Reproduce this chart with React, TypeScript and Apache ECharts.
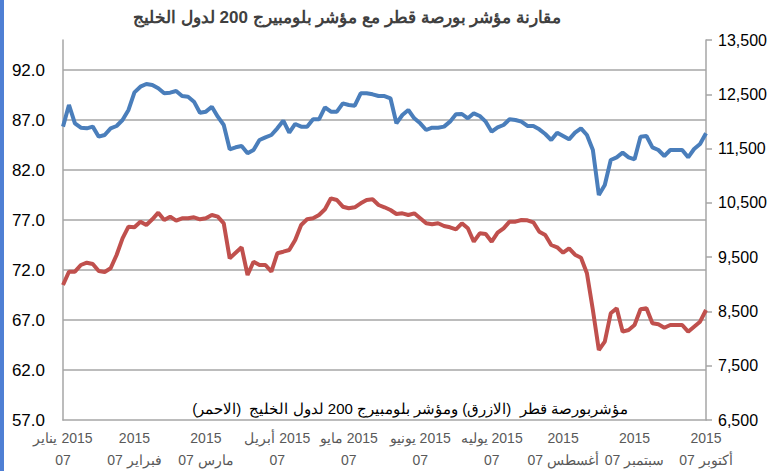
import React, { useEffect, useRef } from "react";
import * as echarts from "echarts";

const POINTS_PER_MONTH = 12;

const monthLabels = [
  "2015 يناير\n07",
  "2015\nفبراير 07",
  "2015\nمارس 07",
  "2015 أبريل\n07",
  "2015 مايو\n07",
  "2015 يونيو\n07",
  "2015 يوليه\n07",
  "2015\nأغسطس 07",
  "2015\nسبتمبر 07",
  "2015\nأكتوبر 07",
];

// Qatar Exchange index (blue, right axis)
const qatarIndex = [
  11904, 12303, 11965, 11885, 11873, 11904, 11719, 11750, 11873, 11916, 12026, 12211,
  12536, 12640, 12690, 12671, 12610, 12518, 12530, 12561, 12468, 12456, 12364, 12161,
  12180, 12272, 12088, 11934, 11486, 11523, 11547, 11412, 11474, 11658, 11707, 11750,
  11873, 12014, 11793, 11953, 11904, 11904, 12039, 12039, 12260, 12180, 12180, 12333,
  12303, 12290, 12518, 12518, 12499, 12468, 12468, 12426, 11965, 12118, 12211, 12057,
  11965, 11842, 11885, 11885, 11904, 11996, 12131, 12137, 12057, 12149, 12100, 11996,
  11811, 11891, 11934, 12039, 12026, 11996, 11916, 11916, 11854, 11768, 11658, 11793,
  11732, 11670, 11793, 11873, 11750, 11474, 10645, 10829, 11290, 11339, 11425, 11339,
  11302, 11719, 11732, 11523, 11474, 11363, 11474, 11474, 11474, 11339, 11492, 11584, 11781,
];

// Bloomberg GCC 200 index (red, left axis)
const gcc200Index = [
  70.5, 71.83, 71.83, 72.5, 72.73, 72.6, 71.9, 71.8, 72.17, 73.5, 75.17, 76.33,
  76.27, 76.83, 76.5, 77.07, 77.73, 77.0, 77.33, 76.93, 77.17, 77.17, 77.27, 77.07,
  77.17, 77.5, 77.33, 76.67, 73.17, 73.73, 74.27, 71.5, 72.83, 72.5, 72.5, 71.83,
  73.67, 73.83, 74.0, 75.0, 76.5, 77.07, 77.17, 77.5, 78.07, 79.17, 79.0, 78.33,
  78.17, 78.27, 78.67, 79.0, 79.07, 78.5, 78.27, 78.0, 77.6, 77.67, 77.5, 77.67,
  77.17, 76.67, 76.57, 76.67, 76.4, 76.27, 76.07, 76.67, 76.17, 74.83, 75.67, 75.6,
  74.83, 75.73, 76.17, 76.83, 76.83, 77.0, 76.97, 76.77, 75.83, 75.5, 74.5, 74.27,
  73.73, 74.17, 73.53, 73.23, 71.67, 68.0, 64.0, 64.83, 67.67, 68.17, 65.83, 66.0,
  66.5, 68.07, 68.17, 66.67, 66.57, 66.23, 66.5, 66.5, 66.5, 65.83, 66.33, 66.83, 68.0,
];

const leftAxis = { min: 57, max: 95, interval: 5 };
const rightAxis = { min: 6500, max: 13500, interval: 1000 };

const titleText = "مقارنة مؤشر بورصة قطر مع مؤشر بلومبيرج 200 لدول الخليج";
const noteText = "مؤشربورصة قطر  (الازرق) ومؤشر بلومبيرج 200 لدول الخليج  (الاحمر)";

const rtl = (s: string) =>
  s
    .split("\n")
    .map((l) => "\u202B" + l + "\u202C")
    .join("\n");

const FONT = "'Liberation Sans', Arial, sans-serif";

export default function App() {
  const ref = useRef<HTMLDivElement>(null);

  useEffect(() => {
    if (!ref.current) return;
    const chart = echarts.init(ref.current, undefined, { renderer: "svg" });
    const categories = qatarIndex.map((_, i) =>
      i % POINTS_PER_MONTH === 0 ? monthLabels[i / POINTS_PER_MONTH] : ""
    );
    const gridColor = "#a6a6a6";
    chart.setOption({
      animation: false,
      backgroundColor: "#ffffff",
      textStyle: { fontFamily: FONT },
      grid: {
        left: 63,
        right: 62,
        top: 40,
        bottom: 51,
        containLabel: false,
        outerBoundsMode: "none",
      },
      xAxis: {
        type: "category",
        data: categories,
        boundaryGap: false,
        axisLine: { show: true, lineStyle: { color: gridColor, width: 1.5 } },
        axisTick: { show: false },
        splitLine: { show: false },
        axisLabel: {
          interval: (i: number) => i % POINTS_PER_MONTH === 0,
          formatter: (v: string) => (v ? rtl(v) : ""),
          color: "#595959",
          fontSize: 14,
          lineHeight: 22,
          margin: 7,
          fontFamily: FONT,
          hideOverlap: false,
        },
      },
      yAxis: [
        {
          type: "value",
          position: "left",
          min: leftAxis.min,
          max: leftAxis.max,
          interval: leftAxis.interval,
          axisLine: { show: true, lineStyle: { color: gridColor, width: 1.5 } },
          axisTick: { show: false },
          axisLabel: {
            formatter: (v: number) => v.toFixed(1),
            showMaxLabel: false,
            color: "#000000",
            fontSize: 17,
            margin: 18,
            fontFamily: FONT,
          },
          splitLine: {
            show: true,
            showMaxLine: false,
            showMinLine: false,
            lineStyle: { color: gridColor, width: 1.5 },
          },
        },
        {
          type: "value",
          position: "right",
          min: rightAxis.min,
          max: rightAxis.max,
          interval: rightAxis.interval,
          axisLine: { show: true, lineStyle: { color: gridColor, width: 1.5 } },
          axisTick: { show: true, length: 6, lineStyle: { color: gridColor, width: 1.5 } },
          axisLabel: {
            formatter: (v: number) => v.toLocaleString("en-US"),
            color: "#000000",
            fontSize: 16,
            margin: 12,
            fontFamily: FONT,
          },
          splitLine: { show: false },
        },
      ],
      series: [
        {
          type: "line",
          name: "gcc200",
          yAxisIndex: 0,
          data: gcc200Index,
          showSymbol: false,
          symbol: "none",
          lineStyle: { color: "#C0504D", width: 4 },
          itemStyle: { color: "#C0504D" },
        },
        {
          type: "line",
          name: "qatar",
          yAxisIndex: 1,
          data: qatarIndex,
          showSymbol: false,
          symbol: "none",
          lineStyle: { color: "#4A7EBB", width: 4 },
          itemStyle: { color: "#4A7EBB" },
        },
      ],
      graphic: [
        {
          type: "rect",
          shape: { x: 0, y: 0, width: 4, height: 471 },
          style: { fill: "#4F7FD4" },
          silent: true,
        },
        {
          type: "text",
          x: 347,
          y: 17,
          style: {
            text: rtl(titleText),
            font: `bold 17px ${FONT}`,
            fill: "#404040",
            textAlign: "center",
            textVerticalAlign: "middle",
          },
        },
        {
          type: "text",
          x: 410,
          y: 408,
          style: {
            text: rtl(noteText),
            font: `15px ${FONT}`,
            fill: "#000000",
            textAlign: "center",
            textVerticalAlign: "middle",
          },
        },
      ],
    });
    return () => chart.dispose();
  }, []);

  return (
    <div
      ref={ref}
      style={{ position: "fixed", left: 0, top: 0, width: 768, height: 471, background: "#fff" }}
    />
  );
}
